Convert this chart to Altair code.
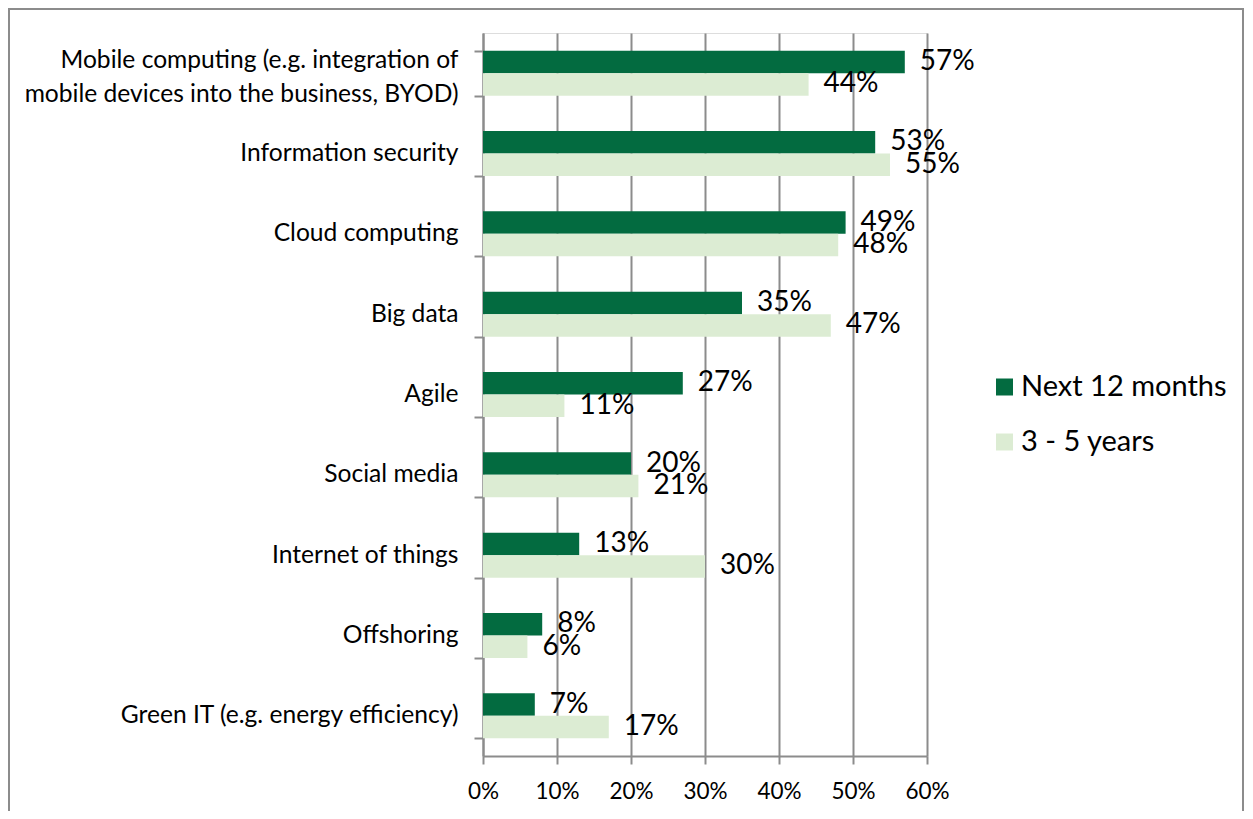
import altair as alt
import pandas as pd

categories = [
    "Mobile computing (e.g. integration of\nmobile devices into the business, BYOD)",
    "Information security",
    "Cloud computing",
    "Big data",
    "Agile",
    "Social media",
    "Internet of things",
    "Offshoring",
    "Green IT (e.g. energy efficiency)",
]
series = ["Next 12 months", "3 - 5 years"]
next_12_months = [57, 53, 49, 35, 27, 20, 13, 8, 7]
three_five_years = [44, 55, 48, 47, 11, 21, 30, 6, 17]
colors = ["#036b40", "#dcecd3"]
x_ticks = [0, 10, 20, 30, 40, 50, 60]

rows = []
for c, a, b in zip(categories, next_12_months, three_five_years):
    rows.append({"cat": c, "series": series[0], "val": a / 100})
    rows.append({"cat": c, "series": series[1], "val": b / 100})
df = pd.DataFrame(rows)

FONT = "Lato"
GRAY = "#8c8c8c"

y_enc = alt.Y(
    "cat:N",
    sort=categories,
    title=None,
    scale=alt.Scale(paddingInner=0.44, paddingOuter=0.22),
    axis=alt.Axis(
        labelExpr="isString(datum.value) ? split(datum.value, '\\n') : ''",
        labelFontSize=24.6,
        labelFont=FONT,
        labelColor="#000000",
        labelLineHeight=34,
        labelOffset={
            "condition": {
                "test": "isString(datum.value) && indexof(datum.value, '\\n') >= 0",
                "value": -13,
            },
            "value": 0,
        },
        labelPadding=16,
        labelLimit=600,
        tickBand="extent",
        tickSize=9,
        tickColor=GRAY,
        tickWidth=2,
        domainColor=GRAY,
        domainWidth=2,
        grid=False,
    ),
)
x_enc = alt.X(
    "val:Q",
    title=None,
    scale=alt.Scale(domain=[0, 0.6], nice=False),
    axis=alt.Axis(
        values=[v / 100 for v in x_ticks],
        format=".0%",
        labelFontSize=22.5,
        labelFont=FONT,
        labelColor="#000000",
        labelPadding=16,
        labelFlush=False,
        labelOverlap=False,
        tickSize=8,
        tickColor=GRAY,
        tickWidth=2,
        domainColor=GRAY,
        domainWidth=2,
        grid=True,
        gridColor=GRAY,
        gridWidth=2,
    ),
)
yoff = alt.YOffset("series:N", sort=series)

bars = alt.Chart(df).mark_bar().encode(
    x=x_enc,
    y=y_enc,
    yOffset=yoff,
    color=alt.Color(
        "series:N",
        sort=series,
        scale=alt.Scale(domain=series, range=colors),
        legend=alt.Legend(
            title=None,
            orient="none",
            legendX=507,
            legendY=339.5,
            symbolType="square",
            symbolSize=289,
            symbolStrokeWidth=0,
            labelFontSize=29,
            labelFont=FONT,
            labelColor="#000000",
            labelOffset=2,
            labelLimit=400,
            rowPadding=25,
            padding=0,
        ),
    ),
)

labels = alt.Chart(df).mark_text(
    align="left", baseline="middle", dx=15, fontSize=28, font=FONT, color="#000000"
).encode(
    x="val:Q",
    y=alt.Y("cat:N", sort=categories),
    yOffset=yoff,
    text=alt.Text("val:Q", format=".0%"),
)

border = alt.Chart(pd.DataFrame({"a": [0]})).mark_rect(
    filled=False, stroke=GRAY, strokeWidth=2
).encode(
    x=alt.value(-474),
    x2=alt.value(760),
    y=alt.value(-24),
    y2=alt.value(800),
)

chart = (
    alt.layer(border, bars, labels)
    .properties(
        width=444,
        height=723,
        autosize=alt.AutoSizeParams(type="none"),
        padding={"left": 475, "top": 25, "right": 318, "bottom": 55},
    )
    .configure_view(stroke=None)
    .configure(background="white")
)

chart.save("out.html", embed_options={"renderer": "svg", "actions": False})
